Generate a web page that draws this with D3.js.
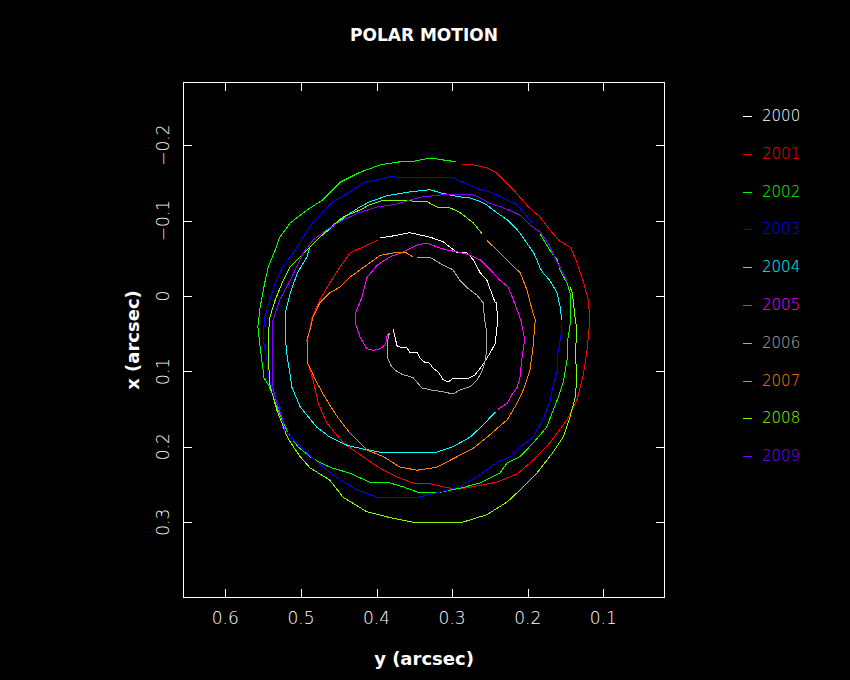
<!DOCTYPE html>
<html>
<head>
<meta charset="utf-8">
<script src="https://cdn.jsdelivr.net/npm/d3@7"></script>
<style>
  html, body { margin: 0; padding: 0; background: #000; }
  svg { display: block; }
</style>
</head>
<body>
<svg id="chart" width="850" height="680"></svg>
<script>
// ---- data: polar motion, each point is [y (arcsec), x (arcsec)] ----
const years = ["2000","2001","2002","2003","2004","2005","2006","2007","2008","2009"];
const colors = ["#ffffff","#ff0000","#00ff00","#0000ff","#00ffff","#ff00ff","#aaaaaa","#ff8000","#80ff00","#8000ff"];
const yTicks = [0.6, 0.5, 0.4, 0.3, 0.2, 0.1];
const xTicks = [-0.2, -0.1, 0, 0.1, 0.2, 0.3];

const pm2000 = [[0.378,0.044],[0.376,0.052],[0.373,0.066],[0.366,0.069],[0.360,0.068],[0.356,0.075],[0.346,0.075],[0.342,0.083],[0.336,0.088],[0.330,0.089],[0.325,0.096],[0.318,0.101],[0.312,0.111],[0.305,0.114],[0.299,0.109],[0.280,0.110],[0.270,0.105],[0.260,0.092],[0.250,0.076],[0.243,0.063],[0.240,0.036],[0.241,0.009],[0.243,0.009],[0.254,-0.021],[0.263,-0.031],[0.272,-0.048],[0.280,-0.057],[0.294,-0.058],[0.312,-0.072],[0.329,-0.078],[0.356,-0.084],[0.376,-0.080],[0.395,-0.077]];
const pm2001 = [[0.398,-0.074],[0.418,-0.065],[0.435,-0.057],[0.448,-0.039],[0.462,-0.017],[0.475,0.005],[0.485,0.028],[0.491,0.058],[0.491,0.089],[0.484,0.111],[0.477,0.142],[0.466,0.168],[0.444,0.195],[0.418,0.213],[0.398,0.227],[0.373,0.240],[0.352,0.248],[0.329,0.249],[0.303,0.255],[0.290,0.256],[0.263,0.251],[0.241,0.247],[0.214,0.236],[0.193,0.218],[0.171,0.195],[0.148,0.164],[0.135,0.138],[0.127,0.107],[0.122,0.076],[0.119,0.045],[0.118,0.028],[0.120,0.005],[0.127,-0.021],[0.133,-0.038],[0.137,-0.050],[0.144,-0.065],[0.157,-0.072],[0.171,-0.088],[0.184,-0.105],[0.200,-0.119],[0.219,-0.141],[0.241,-0.163],[0.254,-0.170],[0.272,-0.174],[0.287,-0.175]];
const pm2002 = [[0.295,-0.178],[0.309,-0.180],[0.329,-0.183],[0.349,-0.179],[0.369,-0.178],[0.395,-0.174],[0.422,-0.164],[0.448,-0.151],[0.472,-0.127],[0.492,-0.114],[0.514,-0.097],[0.528,-0.078],[0.534,-0.061],[0.543,-0.039],[0.548,-0.017],[0.554,0.015],[0.557,0.041],[0.554,0.068],[0.550,0.098],[0.550,0.107],[0.543,0.118],[0.538,0.129],[0.534,0.142],[0.525,0.164],[0.517,0.182],[0.504,0.200],[0.488,0.213],[0.475,0.221],[0.459,0.228],[0.435,0.235],[0.409,0.247],[0.382,0.248],[0.365,0.253],[0.346,0.260],[0.320,0.261],[0.290,0.255],[0.263,0.248],[0.237,0.235],[0.227,0.221],[0.210,0.213],[0.193,0.195],[0.175,0.174],[0.161,0.138],[0.153,0.115],[0.148,0.085],[0.147,0.058],[0.143,0.032],[0.144,-0.004],[0.148,-0.017],[0.157,-0.034],[0.161,-0.048],[0.171,-0.061],[0.184,-0.083]];
const pm2003 = [[0.194,-0.097],[0.214,-0.121],[0.233,-0.130],[0.250,-0.138],[0.263,-0.141],[0.286,-0.151],[0.299,-0.157],[0.346,-0.157],[0.382,-0.158],[0.399,-0.154],[0.418,-0.150],[0.435,-0.138],[0.458,-0.125],[0.472,-0.110],[0.484,-0.098],[0.497,-0.078],[0.510,-0.057],[0.524,-0.039],[0.534,-0.017],[0.541,0.005],[0.548,0.028],[0.550,0.058],[0.545,0.085],[0.543,0.107],[0.536,0.130],[0.526,0.151],[0.524,0.174],[0.510,0.191],[0.492,0.208],[0.471,0.227],[0.448,0.244],[0.426,0.257],[0.399,0.267],[0.373,0.267],[0.346,0.267],[0.320,0.261],[0.290,0.253],[0.263,0.237],[0.241,0.221],[0.223,0.213],[0.210,0.200],[0.193,0.187],[0.180,0.164],[0.171,0.142],[0.167,0.121],[0.161,0.098],[0.160,0.076],[0.155,0.045],[0.155,0.036]];
const pm2004 = [[0.155,0.032],[0.157,0.015],[0.161,-0.004],[0.171,-0.021],[0.180,-0.031],[0.184,-0.038],[0.188,-0.048],[0.192,-0.057],[0.201,-0.070],[0.210,-0.083],[0.214,-0.088],[0.227,-0.101],[0.246,-0.114],[0.254,-0.121],[0.267,-0.127],[0.276,-0.130],[0.286,-0.131],[0.299,-0.133],[0.316,-0.137],[0.329,-0.141],[0.356,-0.138],[0.386,-0.133],[0.409,-0.125],[0.422,-0.118],[0.439,-0.107],[0.458,-0.092],[0.475,-0.078],[0.488,-0.065],[0.492,-0.052],[0.505,-0.030],[0.514,-0.004],[0.521,0.023],[0.521,0.049],[0.519,0.075],[0.515,0.100],[0.512,0.121],[0.501,0.147],[0.479,0.174],[0.462,0.187],[0.439,0.198],[0.422,0.202],[0.391,0.208],[0.360,0.208],[0.320,0.207],[0.299,0.200],[0.276,0.187],[0.259,0.171],[0.243,0.154]];
const pm2005 = [[0.239,0.150],[0.227,0.142],[0.223,0.134],[0.214,0.121],[0.210,0.107],[0.208,0.085],[0.204,0.058],[0.209,0.032],[0.219,0.005],[0.226,-0.012],[0.237,-0.021],[0.246,-0.031],[0.254,-0.039],[0.263,-0.048],[0.276,-0.054],[0.290,-0.058],[0.307,-0.061],[0.320,-0.065],[0.333,-0.070],[0.346,-0.068],[0.365,-0.058],[0.382,-0.052],[0.399,-0.041],[0.413,-0.024],[0.419,0.001],[0.428,0.023],[0.428,0.036],[0.422,0.054],[0.413,0.070],[0.404,0.072],[0.395,0.070],[0.388,0.064],[0.386,0.052],[0.384,0.049]];
const pm2006 = [[0.383,0.049],[0.386,0.062],[0.386,0.081],[0.380,0.094],[0.373,0.100],[0.366,0.104],[0.352,0.108],[0.340,0.122],[0.326,0.125],[0.312,0.127],[0.299,0.130],[0.290,0.125],[0.276,0.120],[0.267,0.111],[0.261,0.101],[0.257,0.089],[0.254,0.072],[0.254,0.050],[0.257,0.032],[0.259,0.009],[0.267,-0.001],[0.280,-0.011],[0.290,-0.021],[0.299,-0.035],[0.312,-0.041],[0.329,-0.051],[0.342,-0.051],[0.346,-0.051]];
const pm2007 = [[0.352,-0.052],[0.362,-0.058],[0.378,-0.057],[0.395,-0.054],[0.413,-0.041],[0.435,-0.025],[0.448,-0.012],[0.462,-0.004],[0.475,0.009],[0.484,0.028],[0.488,0.045],[0.492,0.058],[0.491,0.089],[0.479,0.115],[0.466,0.138],[0.452,0.160],[0.435,0.182],[0.413,0.204],[0.391,0.213],[0.369,0.227],[0.346,0.231],[0.320,0.227],[0.303,0.218],[0.272,0.202],[0.250,0.184],[0.227,0.164],[0.214,0.142],[0.206,0.125],[0.197,0.098],[0.193,0.068],[0.190,0.032],[0.194,0.019],[0.201,-0.008],[0.210,-0.031],[0.219,-0.039],[0.237,-0.057],[0.254,-0.074]];
const pm2008 = [[0.260,-0.082],[0.272,-0.097],[0.290,-0.111],[0.303,-0.117],[0.320,-0.118],[0.333,-0.125],[0.373,-0.127],[0.391,-0.127],[0.409,-0.121],[0.422,-0.114],[0.444,-0.105],[0.462,-0.090],[0.479,-0.074],[0.501,-0.052],[0.514,-0.039],[0.525,-0.017],[0.534,0.005],[0.541,0.028],[0.543,0.049],[0.543,0.085],[0.541,0.118],[0.532,0.151],[0.518,0.187],[0.510,0.200],[0.501,0.213],[0.488,0.228],[0.462,0.244],[0.444,0.267],[0.413,0.286],[0.382,0.294],[0.352,0.300],[0.303,0.300],[0.286,0.300],[0.254,0.290],[0.227,0.273],[0.210,0.257],[0.188,0.235],[0.167,0.208],[0.153,0.187],[0.144,0.160],[0.137,0.134],[0.135,0.107],[0.137,0.076],[0.135,0.045],[0.137,0.032],[0.141,-0.004],[0.144,-0.012]];
const pm2009 = [[0.148,-0.019],[0.153,-0.030],[0.160,-0.043],[0.167,-0.057],[0.173,-0.070],[0.184,-0.085],[0.197,-0.094],[0.210,-0.107],[0.220,-0.112],[0.233,-0.117],[0.250,-0.123],[0.263,-0.130],[0.272,-0.134],[0.316,-0.134],[0.342,-0.131],[0.378,-0.121],[0.399,-0.118],[0.422,-0.111],[0.444,-0.101],[0.466,-0.088],[0.484,-0.074],[0.497,-0.057],[0.514,-0.021],[0.528,0.005],[0.537,0.032],[0.538,0.058],[0.537,0.121],[0.532,0.142],[0.524,0.164],[0.521,0.180]];
const series = [pm2000, pm2001, pm2002, pm2003, pm2004, pm2005, pm2006, pm2007, pm2008, pm2009];

// ---- layout ----
const L = 183, R = 665, T = 82, B = 598;
const svg = d3.select("#chart");
svg.append("rect").attr("width", 850).attr("height", 680).attr("fill", "#000");

const sx = d3.scaleLinear().domain([0.656, 0.0184]).range([L, R]);   // y (arcsec), reversed
const sy = d3.scaleLinear().domain([-0.2838, 0.4005]).range([T, B]); // x (arcsec), downward

const fontThin = "'DejaVu Sans', sans-serif";

// title
svg.append("text").attr("x", (L + R) / 2).attr("y", 35)
  .attr("text-anchor", "middle").attr("dominant-baseline", "central")
  .attr("fill", "#fff").attr("font-family", fontThin).attr("font-weight", "bold")
  .attr("font-size", 17).text("POLAR MOTION");

// axes (inward ticks on all four sides)
const tick = 9;
const gB = svg.append("g").attr("transform", `translate(0,${B})`)
  .call(d3.axisBottom(sx).tickValues(yTicks).tickSize(-tick).tickFormat(""));
const gTp = svg.append("g").attr("transform", `translate(0,${T})`)
  .call(d3.axisTop(sx).tickValues(yTicks).tickSize(-tick).tickFormat(""));
const gL = svg.append("g").attr("transform", `translate(${L},0)`)
  .call(d3.axisLeft(sy).tickValues(xTicks).tickSize(-tick).tickFormat(""));
const gR = svg.append("g").attr("transform", `translate(${R},0)`)
  .call(d3.axisRight(sy).tickValues(xTicks).tickSize(-tick).tickFormat(""));
[gB, gTp, gL, gR].forEach(g => {
  g.select(".domain").remove();
  g.selectAll("line").attr("stroke", "#fff").attr("stroke-width", 1).attr("shape-rendering", "crispEdges");
});
svg.append("rect").attr("x", L + 0.5).attr("y", T + 0.5)
  .attr("width", R - L - 1).attr("height", B - T - 1)
  .attr("fill", "none").attr("stroke", "#fff").attr("stroke-width", 1)
  .attr("shape-rendering", "crispEdges");

// tick labels
const fmt = v => (v < 0 ? "\u2212" : "") + (Math.abs(v) === 0 ? "0" : Math.abs(v).toFixed(1));
svg.append("g").selectAll("text").data(yTicks).join("text")
  .attr("x", d => sx(d)).attr("y", 618)
  .attr("text-anchor", "middle").attr("dominant-baseline", "central")
  .attr("fill", "#fff").attr("font-family", fontThin).attr("font-weight", 300)
  .attr("font-size", 17).text(fmt);
svg.append("g").selectAll("text").data(xTicks).join("text")
  .attr("transform", d => `translate(163,${sy(d)}) rotate(-90)`)
  .attr("text-anchor", "middle").attr("dominant-baseline", "central")
  .attr("fill", "#fff").attr("font-family", fontThin).attr("font-weight", 300)
  .attr("font-size", 17).text(fmt);

// axis titles
svg.append("text").attr("x", (L + R) / 2).attr("y", 658)
  .attr("text-anchor", "middle").attr("dominant-baseline", "central")
  .attr("fill", "#fff").attr("font-family", fontThin).attr("font-weight", "bold")
  .attr("font-size", 18).text("y (arcsec)");
svg.append("text").attr("transform", `translate(132,${(T + B) / 2}) rotate(-90)`)
  .attr("text-anchor", "middle").attr("dominant-baseline", "central")
  .attr("fill", "#fff").attr("font-family", fontThin).attr("font-weight", "bold")
  .attr("font-size", 18).text("x (arcsec)");

// curves
const line = d3.line().x(d => sx(d[0])).y(d => sy(d[1]));
const defs = svg.append("defs");
defs.append("clipPath").attr("id", "clip").append("rect")
  .attr("x", L).attr("y", T).attr("width", R - L).attr("height", B - T);
svg.append("g").attr("clip-path", "url(#clip)")
  .selectAll("path").data(series).join("path")
  .attr("d", line).attr("fill", "none")
  .attr("stroke", (d, i) => colors[i]).attr("stroke-width", 1)
  .attr("shape-rendering", "crispEdges");

// legend
const lg = svg.append("g").selectAll("g").data(years).join("g")
  .attr("transform", (d, i) => `translate(0,${116 + i * 37.8})`);
lg.append("line").attr("x1", 743).attr("x2", 752).attr("y1", 0.5).attr("y2", 0.5)
  .attr("stroke", (d, i) => colors[i]).attr("stroke-width", 1)
  .attr("shape-rendering", "crispEdges");
lg.append("text").attr("x", 762).attr("y", 0).attr("dominant-baseline", "central")
  .attr("fill", (d, i) => colors[i]).attr("font-family", fontThin).attr("font-weight", 300)
  .attr("font-size", 15).text(d => d);
</script>
</body>
</html>
